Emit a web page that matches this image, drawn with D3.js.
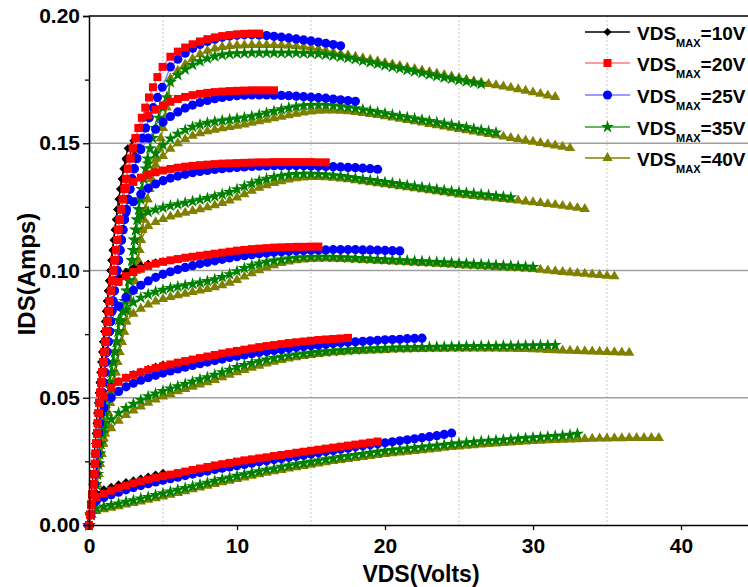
<!DOCTYPE html>
<html><head><meta charset="utf-8">
<script src="https://cdn.jsdelivr.net/npm/d3@7"></script>
<style>body{margin:0;background:#fff} svg text{font-family:"Liberation Sans",Arial,sans-serif;font-weight:bold}</style>
</head><body><svg id="c" width="748" height="587"></svg>
<script>
// ---------- DATA (VDS in volts, IDS in mA) ----------
const seriesLabels = ["10V","20V","25V","35V","40V"];
const xTicks = [0,10,20,30,40];
const yTicks = [0,50,100,150,200];
const yTickLabels = ["0.00","0.05","0.10","0.15","0.20"];
const yMinorTicks = [25,75,125,175];
const xGridDotted = [5,15,25,35];

// VDS sampling grid of the saturation part of every curve
const vGrid = [0.5,1,1.5,2,2.5,3,3.5,4,4.5,5,5.5,6,6.5,7,7.5,8,8.5,9,9.5,10,10.5,11,11.5,12,12.5,13,13.5,14,14.5,15,15.5,16,16.5,17,17.5,18,18.5,19,19.5,20,20.5,21,21.5,22,22.5,23,23.5,24,24.5,25,25.5,26,26.5,27,27.5,28,28.5,29,29.5,30,30.5,31,31.5,32,32.5,33,33.5,34,34.5,35,35.5,36,36.5,37,37.5,38,38.5];

// steep (linear region) part: current levels and the VDS at which each series reaches them
const riseI = [0,4,8,12,16,20,24,28,32,36,40,44,48,52,56,60,64,68,72,76,80,84,88,92,96,100,104,108,112,116,120,124,128,132,136,140,144,148,152,156,160,164,168,172,176,180];
const riseV10 = [0,0.07,0.14,0.20,0.25,0.30,0.35,0.40,0.44,0.48,0.53,0.58,0.63,0.68,0.73,0.79,0.85,0.91,0.97,1.04,1.10,1.17,1.23,1.30,1.37,1.45,1.52,1.60,1.68,1.75,1.83,1.92,2.01,2.11,2.22,2.34,2.47,2.62];
const riseV20 = [0,0.08,0.16,0.23,0.29,0.35,0.40,0.45,0.50,0.55,0.60,0.66,0.71,0.77,0.83,0.90,0.97,1.04,1.11,1.18,1.25,1.33,1.40,1.48,1.56,1.64,1.73,1.82,1.90,1.98,2.07,2.17,2.28,2.40,2.51,2.64,2.80,2.96,3.15,3.35,3.57,3.80,4.05,4.32,4.62,4.97];
const riseV25 = [0,0.09,0.18,0.26,0.33,0.40,0.46,0.52,0.58,0.64,0.70,0.77,0.83,0.90,0.97,1.05,1.13,1.21,1.29,1.37,1.45,1.54,1.62,1.71,1.80,1.89,1.99,2.09,2.19,2.29,2.40,2.52,2.64,2.77,2.91,3.06,3.23,3.41,3.61,3.83,4.07,4.33,4.62,4.95];
const riseV35 = [0,0.13,0.27,0.36,0.46,0.55,0.63,0.70,0.78,0.88,0.98,1.08,1.18,1.30,1.40,1.52,1.63,1.75,1.86,1.98,2.13,2.27,2.42,2.57,2.70,2.80,2.91,3.00,3.08,3.17,3.26,3.37,3.48,3.58,3.70,3.83,3.96,4.12,4.30,4.50,4.72,4.97,5.25];
const riseV40 = [0,0.15,0.30,0.42,0.53,0.63,0.73,0.83,0.94,1.05,1.16,1.28,1.40,1.52,1.65,1.78,1.91,2.05,2.20,2.35,2.50,2.65,2.80,2.94,3.07,3.19,3.30,3.40,3.50,3.60,3.71,3.83,3.95,4.08,4.22,4.38,4.55,4.74,4.85,5.00,5.12,5.25,5.38];

// per gate level: steep part kept below knee current, saturation part starts at start VDS
const knee10 = [12,50,94,128,144,150];
const start10 = [0.5,1,1.5,2.5,2.5,3];
const ids10 = [
 [12.5,14.0,15.0,16.0,16.8,17.5,18.3,19.0,19.8,20.5],
 [51,54.5,56.5,58,59.3,60.3,61.3,62.2,63.0],
 [95.0,97.5,99.5,101.0,102.0,102.7,103.2,103.6],
 [133,135.5],
 [143.5,146.0],
 [151.0]
];
const knee20 = [11,50,94,128,158,184];
const start20 = [0.5,1,2,2.5,4,5.5];
const ids20 = [
 [11.0,12.3,13.5,14.5,15.5,16.4,17.2,17.9,18.6,19.2,19.8,20.4,21.0,21.6,22.2,22.8,23.4,23.9,24.4,24.9,25.4,25.8,26.2,26.6,27.1,27.5,27.9,28.4,28.8,29.2,29.6,30.0,30.4,30.8,31.2,31.6,32.0,32.4,32.8],
 [50.5,54.0,56.3,57.8,59.0,60.0,60.9,61.7,62.4,63.1,63.8,64.4,65.0,65.6,66.2,66.8,67.4,67.9,68.4,68.9,69.4,69.9,70.3,70.7,71.1,71.5,71.8,72.1,72.4,72.7,72.9,73.1,73.3,73.5],
 [95.5,97.8,99.4,100.7,101.8,102.7,103.4,104.0,104.5,105.0,105.4,105.8,106.2,106.6,107.0,107.4,107.8,108.1,108.4,108.6,108.8,109.0,109.1,109.2,109.3,109.3,109.4,109.4],
 [132.5,134.8,136.5,137.7,138.6,139.3,139.9,140.4,140.8,141.1,141.4,141.6,141.8,142.0,142.1,142.2,142.3,142.4,142.5,142.5,142.6,142.6,142.6,142.6,142.6,142.6,142.5,142.5],
 [161.0,163.2,164.9,166.3,167.4,168.2,168.9,169.4,169.8,170.1,170.3,170.5,170.6,170.7,170.8,170.8,170.8,170.8],
 [184.0,186.0,187.6,188.9,190.0,190.9,191.6,192.1,192.5,192.8,193.0,193.1,193.1]
];
const knee25 = [9.5,46,84,120,146,176];
const start25 = [0.5,1,2,2.5,3.5,5.5];
const ids25 = [
 [9.5,10.8,11.9,12.9,13.8,14.7,15.5,16.2,16.9,17.6,18.2,18.8,19.4,20.0,20.6,21.2,21.8,22.3,22.8,23.3,23.8,24.3,24.8,25.2,25.7,26.1,26.6,27.0,27.4,27.9,28.4,28.9,29.3,29.8,30.2,30.7,31.1,31.5,31.9,32.3,32.7,33.1,33.5,33.9,34.3,34.7,35.1,35.6,36.1],
 [46.0,50.0,52.5,54.3,55.7,56.9,57.9,58.8,59.7,60.5,61.3,62.0,62.7,63.4,64.0,64.6,65.2,65.8,66.3,66.8,67.3,67.8,68.2,68.6,69.0,69.4,69.8,70.1,70.4,70.7,71.0,71.3,71.6,71.8,72.0,72.2,72.4,72.6,72.8,72.9,73.0,73.2,73.3,73.4],
 [86.0,89.5,92.2,94.2,95.9,97.3,98.5,99.5,100.4,101.2,101.9,102.6,103.2,103.8,104.4,104.9,105.4,105.8,106.2,106.6,106.9,107.2,107.4,107.6,107.8,107.9,108.0,108.1,108.1,108.2,108.2,108.2,108.2,108.1,108.1,108.0,107.9,107.8,107.7],
 [123.0,127.0,130.0,132.3,134.0,135.3,136.3,137.1,137.8,138.4,138.9,139.3,139.7,140.0,140.3,140.5,140.7,140.9,141.0,141.1,141.2,141.2,141.2,141.2,141.2,141.1,141.0,140.9,140.8,140.7,140.5,140.4,140.2,140.0,139.8],
 [147.5,152.0,155.5,158.3,160.5,162.3,163.8,165.0,166.0,166.8,167.5,168.0,168.4,168.7,168.9,169.0,169.0,169.0,168.9,168.8,168.7,168.5,168.3,168.1,167.9,167.7,167.4,167.1,166.8,166.5],
 [180.0,183.0,185.4,187.3,188.8,190.0,190.9,191.6,192.1,192.4,192.6,192.6,192.5,192.3,192.0,191.7,191.4,191.0,190.6,190.2,189.8,189.3,188.8,188.3]
];
const knee35 = [6.5,38,76,118,138,172];
const start35 = [0.5,1,2,3.5,4,5.5];
const ids35 = [
 [6.5,7.2,7.8,8.4,9.1,9.7,10.4,11.0,11.7,12.4,13.1,13.8,14.5,15.2,15.9,16.6,17.3,18.0,18.6,19.3,19.9,20.5,21.1,21.7,22.2,22.8,23.3,23.8,24.3,24.8,25.3,25.8,26.2,26.7,27.1,27.5,27.9,28.3,28.7,29.1,29.4,29.7,30.0,30.3,30.6,30.9,31.2,31.5,31.8,32.1,32.4,32.6,32.9,33.1,33.3,33.5,33.7,33.9,34.1,34.3,34.5,34.7,34.9,35.1,35.4,35.8],
 [38.0,41.5,44.0,45.9,47.6,49.1,50.5,51.6,52.6,53.6,54.5,55.4,56.3,57.2,58.0,59.0,60.0,61.0,62.0,62.8,63.6,64.3,65.0,65.6,66.1,66.6,67.0,67.3,67.6,67.9,68.2,68.4,68.6,68.8,69.0,69.1,69.3,69.4,69.5,69.6,69.7,69.7,69.8,69.9,69.9,70.0,70.0,70.1,70.1,70.2,70.2,70.3,70.3,70.3,70.4,70.4,70.4,70.5,70.5,70.6,70.6,70.7],
 [80.5,84.5,87.5,89.3,90.6,91.6,92.4,93.1,93.7,94.2,94.7,95.2,95.8,96.5,97.4,98.5,99.7,100.9,101.9,102.7,103.4,103.9,104.3,104.7,105.0,105.2,105.3,105.4,105.4,105.3,105.2,105.1,104.9,104.8,104.6,104.5,104.3,104.2,104.0,103.9,103.7,103.6,103.4,103.3,103.1,103.0,102.8,102.7,102.5,102.4,102.2,102.1,101.9,101.8,101.6,101.5,101.3],
 [121.8,123.0,123.9,124.7,125.4,126.0,126.6,127.2,127.8,128.4,129.1,129.9,130.8,131.9,133.1,134.2,135.2,136.0,136.7,137.2,137.6,137.9,138.0,138.0,137.9,137.7,137.4,137.1,136.7,136.3,135.9,135.5,135.1,134.7,134.3,133.9,133.5,133.1,132.7,132.3,131.9,131.5,131.1,130.8,130.5,130.2,129.9,129.6,129.3,129.0,128.7],
 [142.0,146.0,149.3,151.8,153.7,155.2,156.4,157.3,158.0,158.5,158.9,159.3,159.7,160.1,160.6,161.2,161.9,162.6,163.3,163.9,164.4,164.8,165.0,165.1,165.0,164.8,164.5,164.1,163.7,163.2,162.7,162.2,161.7,161.2,160.7,160.2,159.7,159.2,158.7,158.2,157.7,157.2,156.7,156.2,155.7,155.2,154.7,154.2],
 [174.0,176.8,179.0,180.8,182.2,183.3,184.1,184.7,185.1,185.3,185.4,185.5,185.5,185.5,185.5,185.5,185.5,185.5,185.4,185.3,185.1,184.8,184.4,184.0,183.5,183.0,182.4,181.8,181.2,180.6,180.0,179.4,178.8,178.2,177.6,177.0,176.4,175.8,175.3,174.8,174.3,173.8,173.3]
];
const knee40 = [5.5,34,76,116,138,172];
const start40 = [0.5,1,2.5,4,4.5,5.5];
const ids40 = [
 [5.5,6.2,6.8,7.4,8.0,8.6,9.2,9.9,10.5,11.2,11.9,12.6,13.3,14.0,14.7,15.4,16.1,16.8,17.4,18.1,18.7,19.3,19.9,20.5,21.1,21.6,22.2,22.7,23.2,23.7,24.2,24.6,25.1,25.5,25.9,26.3,26.7,27.1,27.5,27.9,28.2,28.5,28.8,29.1,29.4,29.7,30.0,30.3,30.6,30.8,31.1,31.3,31.6,31.8,32.0,32.2,32.4,32.6,32.8,33.0,33.1,33.3,33.4,33.5,33.6,33.7,33.8,33.9,34.0,34.0,34.1,34.1,34.2,34.2,34.2,34.2,34.2],
 [34.0,38.0,41.0,43.2,45.0,46.6,48.0,49.3,50.5,51.5,52.5,53.4,54.3,55.2,56.1,57.0,58.0,59.0,60.0,60.9,61.8,62.6,63.4,64.1,64.8,65.4,65.9,66.4,66.8,67.2,67.5,67.8,68.0,68.2,68.4,68.5,68.6,68.7,68.8,68.9,69.0,69.0,69.1,69.1,69.2,69.2,69.2,69.3,69.3,69.3,69.3,69.3,69.3,69.3,69.2,69.2,69.1,69.1,69.0,68.9,68.8,68.7,68.6,68.5,68.4,68.3,68.2,68.1,68.0,67.9,67.8,67.7],
 [80.0,83.0,85.0,86.6,87.8,88.8,89.6,90.3,90.9,91.5,92.1,92.7,93.4,94.2,95.2,96.3,97.6,98.9,100.1,101.2,102.1,102.9,103.5,104.0,104.3,104.5,104.6,104.7,104.6,104.5,104.4,104.3,104.1,104.0,103.8,103.7,103.5,103.4,103.2,103.1,102.9,102.8,102.6,102.5,102.3,102.2,102.0,101.9,101.7,101.6,101.4,101.3,101.1,101.0,100.8,100.6,100.3,100.0,99.7,99.4,99.2,98.9,98.7,98.4,98.2,97.9,97.7],
 [117.5,119.0,120.2,121.2,122.0,122.7,123.4,124.1,124.8,125.6,126.5,127.5,128.7,130.0,131.3,132.5,133.5,134.4,135.1,135.7,136.2,136.5,136.7,136.7,136.6,136.4,136.1,135.8,135.5,135.1,134.7,134.3,133.9,133.5,133.1,132.7,132.3,131.9,131.5,131.1,130.7,130.3,129.9,129.6,129.3,129.0,128.7,128.4,128.1,127.8,127.5,127.1,126.8,126.5,126.1,125.8,125.4,125.0,124.6,124.2],
 [141.5,145.0,147.8,150.0,151.6,152.9,153.9,154.7,155.3,155.9,156.4,156.9,157.4,158.0,158.6,159.2,159.8,160.4,161.0,161.6,162.1,162.5,162.8,162.9,162.9,162.8,162.6,162.3,161.9,161.5,161.1,160.6,160.1,159.6,159.1,158.6,158.1,157.6,157.1,156.6,156.1,155.6,155.1,154.6,154.1,153.6,153.1,152.6,152.1,151.6,151.1,150.6,150.1,149.6,149.1,148.6,148.1],
 [175.5,178.5,181.0,183.2,185.0,186.3,187.2,187.8,188.2,188.4,188.5,188.6,188.6,188.6,188.6,188.5,188.4,188.2,187.9,187.5,187.0,186.4,185.8,185.2,184.6,184.0,183.4,182.8,182.2,181.6,181.0,180.4,179.8,179.2,178.6,178.0,177.4,176.8,176.2,175.6,175.0,174.4,173.8,173.3,172.8,172.3,171.8,171.2,170.6,170.0,169.4,168.8,168.2]
];

// ---------- CHART ----------
const W = 748, H = 587;
const svg = d3.select("#c");
svg.append("rect").attr("width", W).attr("height", H).attr("fill", "#fff");
const x = d3.scaleLinear().domain([0, 45]).range([89, 755]);
const y = d3.scaleLinear().domain([0, 200]).range([525, 16]);

// grid
svg.append("g").selectAll("line").data(xGridDotted).join("line")
  .attr("x1", d => x(d)).attr("x2", d => x(d)).attr("y1", y(200)).attr("y2", y(0))
  .attr("stroke", "#c8c8c8").attr("stroke-width", 1).attr("stroke-dasharray", "2,2");
svg.append("g").selectAll("line").data(yTicks.slice(1, -1)).join("line")
  .attr("x1", x(0)).attr("x2", x(45)).attr("y1", d => y(d)).attr("y2", d => y(d))
  .attr("stroke", "#a0a0a0").attr("stroke-width", 1.5);

function buildCurves(riseV, knee, start, ids) {
  return ids.map((ys, k) => {
    const pts = [];
    riseV.forEach((v, i) => { if (riseI[i] < knee[k]) pts.push([v, riseI[i]]); });
    const s = vGrid.indexOf(start[k]);
    ys.forEach((val, j) => pts.push([vGrid[s + j], val]));
    return pts;
  });
}

const series = [
  {label: seriesLabels[0], curves: buildCurves(riseV10, knee10, start10, ids10), mark: "#000000", line: "#000000", sym: "diamond"},
  {label: seriesLabels[1], curves: buildCurves(riseV20, knee20, start20, ids20), mark: "#ff0000", line: "#ff7a7a", sym: "square"},
  {label: seriesLabels[2], curves: buildCurves(riseV25, knee25, start25, ids25), mark: "#0000ff", line: "#7a7aff", sym: "circle"},
  {label: seriesLabels[3], curves: buildCurves(riseV35, knee35, start35, ids35), mark: "#008000", line: "#2ea02e", sym: "star"},
  {label: seriesLabels[4], curves: buildCurves(riseV40, knee40, start40, ids40), mark: "#808000", line: "#808000", sym: "triangle"}
];

function symPath(kind) {
  switch (kind) {
    case "diamond": return d3.symbol().type(d3.symbolSquare).size(34)();
    case "square": return d3.symbol().type(d3.symbolSquare).size(64)();
    case "circle": return d3.symbol().type(d3.symbolCircle).size(66)();
    case "star": return d3.symbol().type(d3.symbolStar).size(52)();
    case "triangle": return d3.symbol().type(d3.symbolTriangle).size(46)();
  }
}
const lineGen = d3.line().x(d => x(d[0])).y(d => y(d[1]));
const drawOrder = [4, 3, 0, 2, 1];
drawOrder.forEach(si => {
  const s = series[si];
  const g = svg.append("g");
  const p = symPath(s.sym);
  s.curves.forEach(c => {
    g.append("path").attr("d", lineGen(c)).attr("fill", "none").attr("stroke", s.line).attr("stroke-width", 1.3);
  });
  s.curves.forEach(c => {
    g.selectAll(null).data(c).join("path")
      .attr("d", p)
      .attr("transform", d => `translate(${x(d[0])},${y(d[1])})` + (s.sym === "diamond" ? " rotate(45)" : ""))
      .attr("fill", s.mark);
  });
});

// axes
const yAxis = svg.append("g").attr("transform", `translate(${x(0)},0)`)
  .call(d3.axisLeft(y).tickValues(yTicks).tickSize(6).tickPadding(3).tickFormat((d, i) => yTickLabels[i]));
yAxis.selectAll("text").attr("font-size", 21).attr("fill", "#000");
svg.append("g").attr("transform", `translate(${x(0)},0)`)
  .call(d3.axisLeft(y).tickValues(yMinorTicks).tickSize(4).tickFormat(""))
  .select(".domain").remove();
const xAxis = svg.append("g").attr("transform", `translate(0,${y(0)})`)
  .call(d3.axisBottom(x).tickValues(xTicks).tickSize(5).tickPadding(8).tickFormat(d3.format("d")));
xAxis.selectAll("text").attr("font-size", 21).attr("fill", "#000");
svg.selectAll(".domain").attr("stroke-width", 1.5);
svg.selectAll(".tick line").attr("stroke-width", 1.3);
// top frame
svg.append("line").attr("x1", x(0)).attr("x2", x(45)).attr("y1", y(200)).attr("y2", y(200))
  .attr("stroke", "#000").attr("stroke-width", 1.5);
svg.append("line").attr("x1", x(45)).attr("x2", x(45)).attr("y1", y(200)).attr("y2", y(0))
  .attr("stroke", "#000").attr("stroke-width", 1.5);

// axis titles
svg.append("text").attr("x", 421).attr("y", 582).attr("text-anchor", "middle")
  .attr("font-size", 23).text("VDS(Volts)");
svg.append("text").attr("transform", "translate(35,274) rotate(-90)").attr("text-anchor", "middle")
  .attr("font-size", 24).text("IDS(Amps)");

// legend
const legY = [32, 63, 95, 127, 158];
series.forEach((s, i) => {
  const ly = legY[i];
  svg.append("line").attr("x1", 585).attr("x2", 630).attr("y1", ly).attr("y2", ly)
    .attr("stroke", s.line).attr("stroke-width", 1.5);
  svg.append("path").attr("d", symPath(s.sym))
    .attr("transform", `translate(607.5,${ly})` + (s.sym === "diamond" ? " rotate(45)" : ""))
    .attr("fill", s.mark);
  const t = svg.append("text").attr("x", 637).attr("y", ly + 8).attr("font-size", 19).attr("fill", "#000");
  t.append("tspan").text("VDS");
  t.append("tspan").attr("font-size", 11).attr("dy", 7).text("MAX");
  t.append("tspan").attr("dy", -7).text("=" + s.label);
});
</script>
</body></html>
